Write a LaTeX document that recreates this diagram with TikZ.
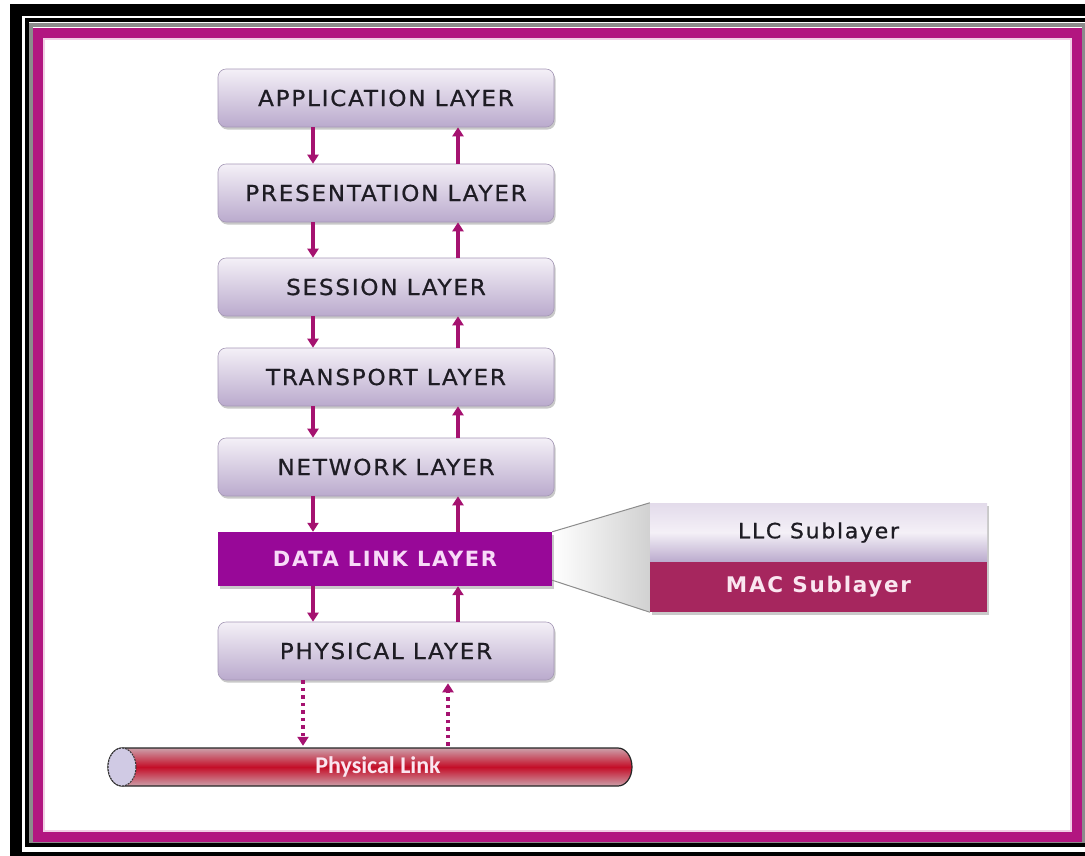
\documentclass[tikz,border=0pt]{standalone}
\usepackage{fontspec}
\usetikzlibrary{arrows.meta,shadows,calc,backgrounds}
\newfontfamily\layerfont[FakeStretch=1.05,LetterSpace=8,FakeBold=0.8]{DejaVu Sans}
\newfontfamily\dlfont[LetterSpace=8]{DejaVu Sans}
\newfontfamily\linkfont{Carlito}

\definecolor{frameMag}{RGB}{178,22,128}
\definecolor{arrowMag}{RGB}{165,18,112}
\definecolor{dlPurple}{RGB}{152,8,152}
\definecolor{macRed}{RGB}{166,38,94}
\definecolor{boxTop}{RGB}{244,240,247}
\definecolor{boxBot}{RGB}{186,170,205}
\definecolor{boxEdge}{RGB}{165,152,182}
\definecolor{txtDark}{RGB}{30,28,36}
\definecolor{dlText}{RGB}{248,218,248}
\definecolor{macText}{RGB}{250,230,240}
\definecolor{tubeEdge}{RGB}{204,160,170}
\definecolor{tubeRed}{RGB}{196,14,40}
\definecolor{capFill}{RGB}{208,202,228}

\tikzset{
  boxshadow/.style={drop shadow={shadow xshift=1.5pt,shadow yshift=-2.5pt,opacity=0.35,fill=black!60}},
  layerbox/.style={rounded corners=8pt,minimum width=336pt,minimum height=58pt,
    top color=boxTop,bottom color=boxBot,draw=boxEdge,line width=0.6pt,
    text=txtDark,font=\layerfont\fontsize{22}{25}\selectfont,boxshadow},
  dlbox/.style={minimum width=334pt,minimum height=54pt,fill=dlPurple,
    text=dlText,font=\dlfont\bfseries\fontsize{21}{24}\selectfont,boxshadow},
  llcbox/.style={minimum width=337pt,minimum height=59pt,
    top color=boxTop!70!boxBot,bottom color=boxBot,middle color=boxTop,
    text=txtDark,font=\layerfont\fontsize{21}{24}\selectfont,boxshadow},
  macbox/.style={minimum width=337pt,minimum height=50pt,fill=macRed,
    text=macText,font=\dlfont\bfseries\fontsize{21.5}{24}\selectfont,boxshadow},
  flow/.style={draw=arrowMag,line width=3.5pt,-{Triangle[width=11pt,length=9pt]}},
  dotflow/.style={flow,dash pattern=on 3.5pt off 4pt,line width=3.2pt},
  funnelline/.style={draw=black!45,line width=1pt},
  tube/.style={draw=black!85,line width=1.2pt,top color=tubeEdge,bottom color=tubeEdge,middle color=tubeRed},
  linklabel/.style={minimum height=38pt,text=macText,font=\linkfont\bfseries\fontsize{24}{26}\selectfont}
}

\begin{document}
\begin{tikzpicture}[x=1pt,y=-1pt]
\useasboundingbox (0,0) rectangle (1085,855);
\clip (0,0) rectangle (1085,855);

% frame: heavy black, thin black, grey rule and magenta border
\draw[black,line width=12pt] (16,9.5) rectangle (1100,858);
\draw[black,line width=3.5pt] (27,20) rectangle (1093,845);
\draw[black!45,line width=4pt] (31,25) rectangle (1084,841);
\draw[frameMag,line width=10pt] (38,32.5) rectangle (1077,837);
\draw[frameMag!20,line width=2pt] (44,38.5) rectangle (1071,831);

% the seven layers
\node[layerbox] (app)   at (386,98)  {APPLICATION LAYER};
\node[layerbox] (pres)  at (386,193) {PRESENTATION LAYER};
\node[layerbox] (sess)  at (386,287) {SESSION LAYER};
\node[layerbox] (trans) at (386,377) {TRANSPORT LAYER};
\node[layerbox] (net)   at (386,467) {NETWORK LAYER};
\node[dlbox]    (dl)    at (385,559) {DATA LINK LAYER};
\node[layerbox] (phys)  at (386,651) {PHYSICAL LAYER};

% data link sublayers
\node[llcbox] (llc) at (818.5,532.5) {LLC Sublayer};
\node[macbox] (mac) at (818.5,587)   {MAC Sublayer};

\coordinate (dlfoot) at ($(dl.south east)+(0,-6)$);
\begin{scope}[on background layer]
  \fill[white] (0,0) rectangle (1085,855);
  \path[left color=white,right color=black!18] (dl.north east) -- (llc.north west) -- (mac.south west) -- (dlfoot) -- cycle;
\end{scope}
\draw[funnelline] (dl.north east) -- (llc.north west);
\draw[funnelline] (dlfoot) -- (mac.south west);

% data flow between adjacent layers
\coordinate (downx) at (313,0);
\coordinate (upx) at (458,0);
\foreach \a/\b in {app/pres,pres/sess,sess/trans,trans/net,net/dl,dl/phys}{
  \draw[flow] (\a.south -| downx) -- (\b.north -| downx);
  \draw[flow] (\b.north -| upx) -- (\a.south -| upx);
}

% physical link tube
\path[tube] (122,748) -- (618,748)
  arc[start angle=-90,end angle=90,x radius=14,y radius=19]
  -- (122,786)
  arc[start angle=90,end angle=270,x radius=14,y radius=19] -- cycle;
\draw[fill=capFill,draw=black!80,line width=1pt,dash pattern=on 2pt off 1pt] (122,767) ellipse[x radius=14,y radius=19];
\node[linklabel] (link) at (378,767) {Physical Link};

% signals to and from the medium
\coordinate (ddownx) at (303,0);
\coordinate (dupx) at (448,0);
\draw[dotflow,shorten >=2pt] (phys.south -| ddownx) -- (link.north -| ddownx);
\draw[dotflow,shorten >=3pt,shorten <=2pt] (link.north -| dupx) -- (phys.south -| dupx);
\end{tikzpicture}
\end{document}
